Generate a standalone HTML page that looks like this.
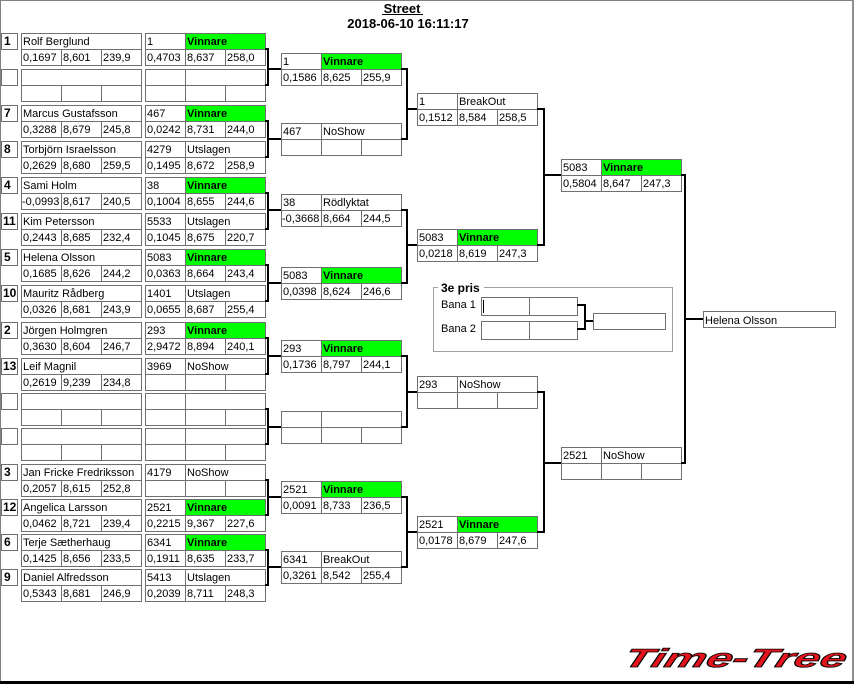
<!DOCTYPE html>
<html><head><meta charset="utf-8"><style>
html,body{margin:0;padding:0;background:#fff;}
body{width:854px;height:684px;overflow:hidden;}
svg{display:block;}
</style></head><body>
<svg width="854" height="684" viewBox="0 0 854 684" xmlns="http://www.w3.org/2000/svg" font-family="'Liberation Sans', Arial, sans-serif" font-size="11">
<defs>
<g id="seed" fill="none" stroke="#6f6f6f"><rect x="0.5" y="0.5" width="16" height="16"/></g>
<g id="nb" fill="none" stroke="#6f6f6f"><rect x="0.5" y="0.5" width="120" height="32"/><path d="M0 16.5H121M40.5 16V33M80.5 16V33"/></g>
<g id="b3" fill="none" stroke="#6f6f6f"><rect x="0.5" y="0.5" width="120" height="32"/><path d="M0 16.5H121M40.5 0V33M80.5 16V33"/></g>
<g id="b3g"><rect x="40" y="0" width="81" height="17" fill="#00ff00"/><g fill="none" stroke="#6f6f6f"><rect x="0.5" y="0.5" width="120" height="32"/><path d="M0 16.5H121M40.5 0V33M80.5 16V33"/></g></g>
</defs>

<!-- frame -->
<rect x="0" y="0" width="854" height="1" fill="#808080"/>
<rect x="0" y="0" width="1" height="684" fill="#808080"/>
<rect x="852" y="0" width="2" height="684" fill="#909090"/>
<rect x="0" y="681" width="854" height="3" fill="#000"/>

<!-- header -->
<text x="402" y="13" text-anchor="middle" font-weight="bold" font-size="13">Street</text>
<rect x="382" y="14" width="41" height="1" fill="#000"/>
<text x="408" y="28" text-anchor="middle" font-weight="bold" font-size="13">2018-06-10 16:11:17</text>

<!-- column 1 boxes -->
<use href="#seed" x="1" y="33"/><use href="#nb" x="21" y="33"/><use href="#b3g" x="145" y="33"/>
<use href="#seed" x="1" y="69"/><use href="#nb" x="21" y="69"/><use href="#b3" x="145" y="69"/>
<use href="#seed" x="1" y="105"/><use href="#nb" x="21" y="105"/><use href="#b3g" x="145" y="105"/>
<use href="#seed" x="1" y="141"/><use href="#nb" x="21" y="141"/><use href="#b3" x="145" y="141"/>
<use href="#seed" x="1" y="177"/><use href="#nb" x="21" y="177"/><use href="#b3g" x="145" y="177"/>
<use href="#seed" x="1" y="213"/><use href="#nb" x="21" y="213"/><use href="#b3" x="145" y="213"/>
<use href="#seed" x="1" y="249"/><use href="#nb" x="21" y="249"/><use href="#b3g" x="145" y="249"/>
<use href="#seed" x="1" y="285"/><use href="#nb" x="21" y="285"/><use href="#b3" x="145" y="285"/>
<use href="#seed" x="1" y="322"/><use href="#nb" x="21" y="322"/><use href="#b3g" x="145" y="322"/>
<use href="#seed" x="1" y="358"/><use href="#nb" x="21" y="358"/><use href="#b3" x="145" y="358"/>
<use href="#seed" x="1" y="393"/><use href="#nb" x="21" y="393"/><use href="#b3" x="145" y="393"/>
<use href="#seed" x="1" y="428"/><use href="#nb" x="21" y="428"/><use href="#b3" x="145" y="428"/>
<use href="#seed" x="1" y="464"/><use href="#nb" x="21" y="464"/><use href="#b3" x="145" y="464"/>
<use href="#seed" x="1" y="499"/><use href="#nb" x="21" y="499"/><use href="#b3g" x="145" y="499"/>
<use href="#seed" x="1" y="534"/><use href="#nb" x="21" y="534"/><use href="#b3g" x="145" y="534"/>
<use href="#seed" x="1" y="569"/><use href="#nb" x="21" y="569"/><use href="#b3" x="145" y="569"/>

<!-- round 2 boxes -->
<use href="#b3g" x="281" y="53"/>
<use href="#b3" x="281" y="123"/>
<use href="#b3" x="281" y="194"/>
<use href="#b3g" x="281" y="267"/>
<use href="#b3g" x="281" y="340"/>
<use href="#b3" x="281" y="411"/>
<use href="#b3g" x="281" y="481"/>
<use href="#b3" x="281" y="551"/>

<!-- round 3 boxes -->
<use href="#b3" x="417" y="93"/>
<use href="#b3g" x="417" y="229"/>
<use href="#b3" x="417" y="376"/>
<use href="#b3g" x="417" y="516"/>

<!-- round 4 boxes -->
<use href="#b3g" x="561" y="159"/>
<use href="#b3" x="561" y="447"/>

<!-- final -->
<rect x="703.5" y="311.5" width="132" height="16" fill="none" stroke="#6f6f6f"/>

<!-- connectors -->
<g fill="none" stroke="#000" stroke-width="2">
<path d="M265 49H268V85H265M268 69H281"/>
<path d="M265 121H268V157H265M268 139H281"/>
<path d="M265 193H268V229H265M268 210H281"/>
<path d="M265 265H268V301H265M268 283H281"/>
<path d="M265 338H268V374H265M268 356H281"/>
<path d="M265 409H268V444H265M268 427H281"/>
<path d="M265 480H268V515H265M268 497H281"/>
<path d="M265 550H268V585H265M268 567H281"/>
<path d="M401 69H407V139H401M407 109H417"/>
<path d="M401 210H407V283H401M407 245H417"/>
<path d="M401 356H407V427H401M407 392H417"/>
<path d="M401 497H407V567H401M407 532H417"/>
<path d="M537 109H544V245H537M544 175H561"/>
<path d="M537 392H544V532H537M544 463H561"/>
<path d="M681 175H685V463H681M685 319H703"/>
</g>

<!-- 3e pris -->
<rect x="433.5" y="287.5" width="239" height="64" fill="none" stroke="#a0a0a0"/>
<rect x="438" y="281" width="46" height="12" fill="#fff"/>
<text x="441" y="292" font-weight="bold" font-size="12">3e pris</text>
<text x="441" y="308">Bana 1</text>
<text x="441" y="332">Bana 2</text>
<g fill="none" stroke="#6f6f6f">
<rect x="481.5" y="297.5" width="96" height="18"/><path d="M529.5 297V316"/>
<rect x="481.5" y="321.5" width="96" height="18"/><path d="M529.5 321V340"/>
<rect x="593.5" y="313.5" width="72" height="16"/>
</g>
<rect x="483" y="300" width="1" height="13" fill="#000"/>
<path d="M577 305H585V329H577M585 321H593" fill="none" stroke="#000" stroke-width="2"/>

<!-- seeds -->
<g font-weight="bold" font-size="12">
<text x="4" y="45">1</text>
<text x="4" y="117">7</text>
<text x="4" y="153">8</text>
<text x="4" y="189">4</text>
<text x="3" y="225">11</text>
<text x="4" y="261">5</text>
<text x="3" y="297">10</text>
<text x="4" y="334">2</text>
<text x="3" y="370">13</text>
<text x="4" y="476">3</text>
<text x="3" y="511">12</text>
<text x="4" y="546">6</text>
<text x="4" y="581">9</text>
</g>

<!-- Vinnare labels -->
<g font-weight="bold">
<text x="187" y="45">Vinnare</text>
<text x="187" y="117">Vinnare</text>
<text x="187" y="189">Vinnare</text>
<text x="187" y="261">Vinnare</text>
<text x="187" y="334">Vinnare</text>
<text x="187" y="511">Vinnare</text>
<text x="187" y="546">Vinnare</text>
<text x="323" y="65">Vinnare</text>
<text x="323" y="279">Vinnare</text>
<text x="323" y="352">Vinnare</text>
<text x="323" y="493">Vinnare</text>
<text x="459" y="241">Vinnare</text>
<text x="459" y="528">Vinnare</text>
<text x="603" y="171">Vinnare</text>
</g>

<!-- column 1 & 2 text -->
<g>
<text x="23" y="45">Rolf Berglund</text>
<text x="23" y="61">0,1697</text><text x="63" y="61">8,601</text><text x="103" y="61">239,9</text>
<text x="147" y="45">1</text>
<text x="147" y="61">0,4703</text><text x="187" y="61">8,637</text><text x="227" y="61">258,0</text>

<text x="23" y="117">Marcus Gustafsson</text>
<text x="23" y="133">0,3288</text><text x="63" y="133">8,679</text><text x="103" y="133">245,8</text>
<text x="147" y="117">467</text>
<text x="147" y="133">0,0242</text><text x="187" y="133">8,731</text><text x="227" y="133">244,0</text>

<text x="23" y="153">Torbjörn Israelsson</text>
<text x="23" y="169">0,2629</text><text x="63" y="169">8,680</text><text x="103" y="169">259,5</text>
<text x="147" y="153">4279</text><text x="187" y="153">Utslagen</text>
<text x="147" y="169">0,1495</text><text x="187" y="169">8,672</text><text x="227" y="169">258,9</text>

<text x="23" y="189">Sami Holm</text>
<text x="22" y="205">-0,0993</text><text x="63" y="205">8,617</text><text x="103" y="205">240,5</text>
<text x="147" y="189">38</text>
<text x="147" y="205">0,1004</text><text x="187" y="205">8,655</text><text x="227" y="205">244,6</text>

<text x="23" y="225">Kim Petersson</text>
<text x="23" y="241">0,2443</text><text x="63" y="241">8,685</text><text x="103" y="241">232,4</text>
<text x="147" y="225">5533</text><text x="187" y="225">Utslagen</text>
<text x="147" y="241">0,1045</text><text x="187" y="241">8,675</text><text x="227" y="241">220,7</text>

<text x="23" y="261">Helena Olsson</text>
<text x="23" y="277">0,1685</text><text x="63" y="277">8,626</text><text x="103" y="277">244,2</text>
<text x="147" y="261">5083</text>
<text x="147" y="277">0,0363</text><text x="187" y="277">8,664</text><text x="227" y="277">243,4</text>

<text x="23" y="297">Mauritz Rådberg</text>
<text x="23" y="313">0,0326</text><text x="63" y="313">8,681</text><text x="103" y="313">243,9</text>
<text x="147" y="297">1401</text><text x="187" y="297">Utslagen</text>
<text x="147" y="313">0,0655</text><text x="187" y="313">8,687</text><text x="227" y="313">255,4</text>

<text x="23" y="334">Jörgen Holmgren</text>
<text x="23" y="350">0,3630</text><text x="63" y="350">8,604</text><text x="103" y="350">246,7</text>
<text x="147" y="334">293</text>
<text x="147" y="350">2,9472</text><text x="187" y="350">8,894</text><text x="227" y="350">240,1</text>

<text x="23" y="370">Leif Magnil</text>
<text x="23" y="386">0,2619</text><text x="63" y="386">9,239</text><text x="103" y="386">234,8</text>
<text x="147" y="370">3969</text><text x="187" y="370">NoShow</text>

<text x="23" y="476">Jan Fricke Fredriksson</text>
<text x="23" y="492">0,2057</text><text x="63" y="492">8,615</text><text x="103" y="492">252,8</text>
<text x="147" y="476">4179</text><text x="187" y="476">NoShow</text>

<text x="23" y="511">Angelica Larsson</text>
<text x="23" y="527">0,0462</text><text x="63" y="527">8,721</text><text x="103" y="527">239,4</text>
<text x="147" y="511">2521</text>
<text x="147" y="527">0,2215</text><text x="187" y="527">9,367</text><text x="227" y="527">227,6</text>

<text x="23" y="546">Terje Sætherhaug</text>
<text x="23" y="562">0,1425</text><text x="63" y="562">8,656</text><text x="103" y="562">233,5</text>
<text x="147" y="546">6341</text>
<text x="147" y="562">0,1911</text><text x="187" y="562">8,635</text><text x="227" y="562">233,7</text>

<text x="23" y="581">Daniel Alfredsson</text>
<text x="23" y="597">0,5343</text><text x="63" y="597">8,681</text><text x="103" y="597">246,9</text>
<text x="147" y="581">5413</text><text x="187" y="581">Utslagen</text>
<text x="147" y="597">0,2039</text><text x="187" y="597">8,711</text><text x="227" y="597">248,3</text>
</g>

<!-- round 2 text -->
<g>
<text x="283" y="65">1</text>
<text x="283" y="81">0,1586</text><text x="323" y="81">8,625</text><text x="363" y="81">255,9</text>
<text x="283" y="135">467</text><text x="323" y="135">NoShow</text>
<text x="283" y="206">38</text><text x="323" y="206">Rödlyktat</text>
<text x="282" y="222">-0,3668</text><text x="323" y="222">8,664</text><text x="363" y="222">244,5</text>
<text x="283" y="279">5083</text>
<text x="283" y="295">0,0398</text><text x="323" y="295">8,624</text><text x="363" y="295">246,6</text>
<text x="283" y="352">293</text>
<text x="283" y="368">0,1736</text><text x="323" y="368">8,797</text><text x="363" y="368">244,1</text>
<text x="283" y="493">2521</text>
<text x="283" y="509">0,0091</text><text x="323" y="509">8,733</text><text x="363" y="509">236,5</text>
<text x="283" y="563">6341</text><text x="323" y="563">BreakOut</text>
<text x="283" y="579">0,3261</text><text x="323" y="579">8,542</text><text x="363" y="579">255,4</text>
</g>

<!-- round 3 text -->
<g>
<text x="419" y="105">1</text><text x="459" y="105">BreakOut</text>
<text x="419" y="121">0,1512</text><text x="459" y="121">8,584</text><text x="499" y="121">258,5</text>
<text x="419" y="241">5083</text>
<text x="419" y="257">0,0218</text><text x="459" y="257">8,619</text><text x="499" y="257">247,3</text>
<text x="419" y="388">293</text><text x="459" y="388">NoShow</text>
<text x="419" y="528">2521</text>
<text x="419" y="544">0,0178</text><text x="459" y="544">8,679</text><text x="499" y="544">247,6</text>
</g>

<!-- round 4 text -->
<g>
<text x="563" y="171">5083</text>
<text x="563" y="187">0,5804</text><text x="603" y="187">8,647</text><text x="643" y="187">247,3</text>
<text x="563" y="459">2521</text><text x="603" y="459">NoShow</text>
</g>

<text x="705" y="324">Helena Olsson</text>

<!-- logo -->
<g transform="translate(622,667) skewX(-18)">
<text x="0" y="0" font-weight="bold" font-style="italic" font-size="26" fill="#e3141c" stroke="#000" stroke-width="0.8" textLength="222" lengthAdjust="spacingAndGlyphs">Time-Tree</text>
</g>
</svg>
</body></html>
